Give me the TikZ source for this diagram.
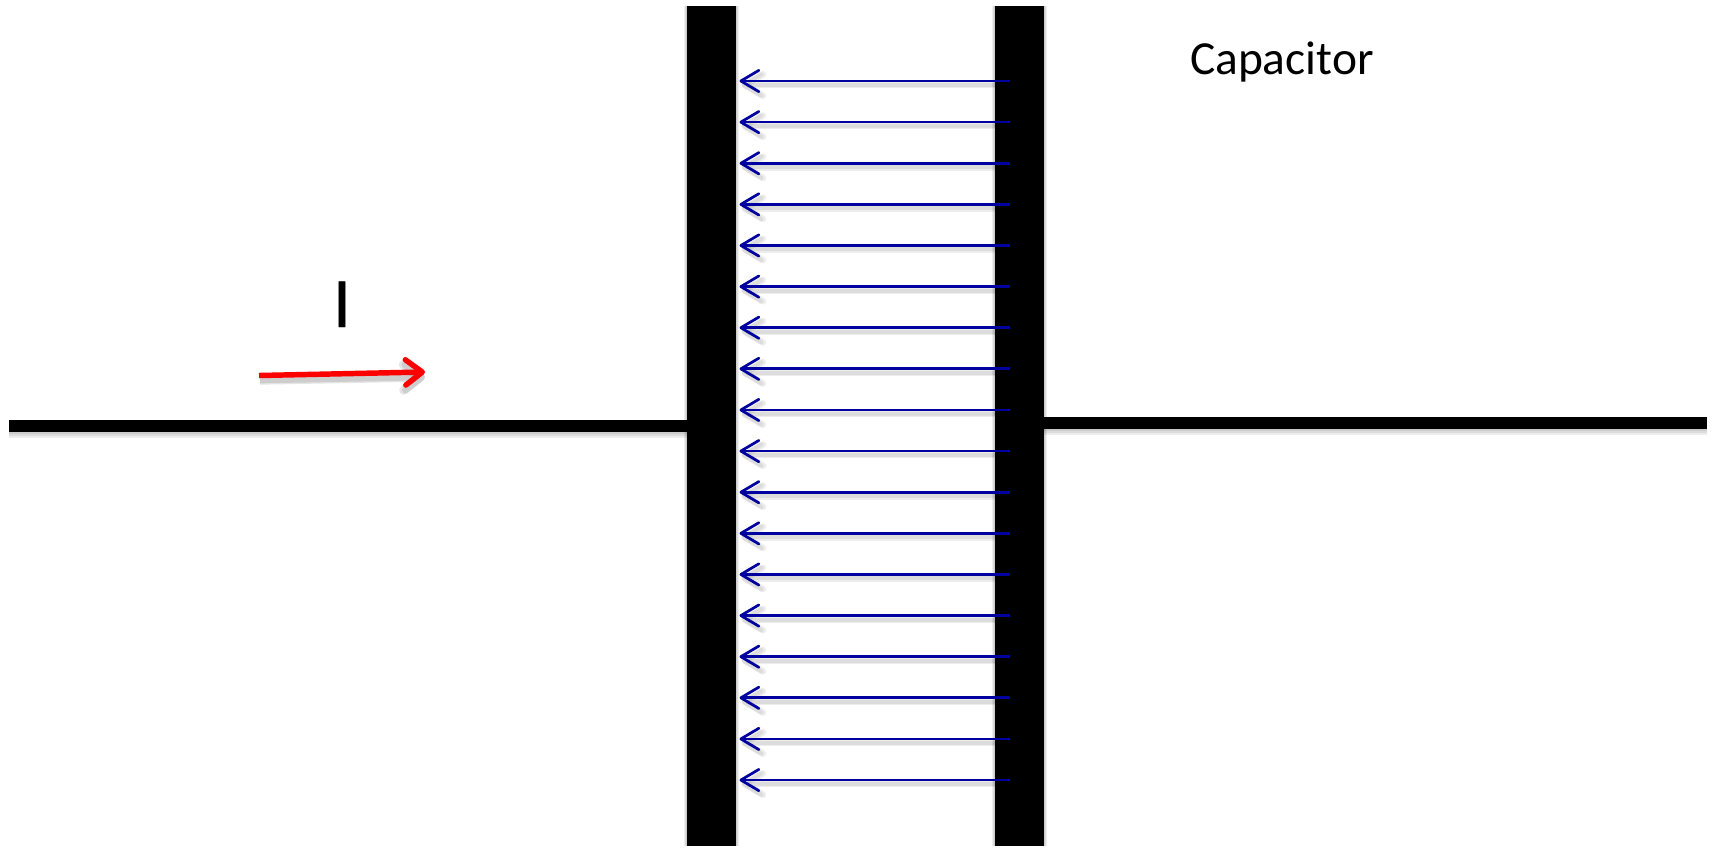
\documentclass[tikz,border=0pt]{standalone}
\usepackage{fontspec}
\setmainfont{Carlito}
\newfontfamily\heavyI[FakeBold=0.6]{Carlito}
\usetikzlibrary{arrows.meta}
\definecolor{fieldblue}{RGB}{0,0,160}
\tikzset{
  x=0.75pt,y=-0.75pt,
  plate/.style={draw=none,fill=black,minimum width=36.75pt,minimum height=630pt,inner sep=0pt,outer sep=0pt},
  wire/.style={draw=black,line width=9pt},
  fieldline/.style={draw=fieldblue,line width=2.05pt,-{Straight Barb[length=13.5pt,width=16pt,line width=2.05pt,round]}},
  fieldshade/.style={draw=black,opacity=.07,line width=#1,-{Straight Barb[length=13.5pt,width=16pt,line width=#1,round]}},
  currentarrow/.style={draw=red,line width=4.1pt,-{Straight Barb[length=12.5pt,width=19pt,line width=4.1pt,round]}},
  currentshade/.style={draw=black,opacity=.10,line width=#1,-{Straight Barb[length=12.5pt,width=19pt,line width=#1,round]}},
  label/.style={inner sep=0pt,outer sep=0pt,text=black}
}
\begin{document}
\begin{tikzpicture}
\useasboundingbox (0,0) rectangle (1712,847);
\fill[white] (0,0) rectangle (1712,847);
% soft shadows of plates and wires
\foreach \w in {1,2,3}{
  \fill[black,opacity=.07] ({687-\w},{6}) rectangle ({736+\w},{846});
  \fill[black,opacity=.07] ({995-\w},{6}) rectangle ({1044+\w},{846});
  \fill[black,opacity=.07] (9,{432}) rectangle (687,{432+2*\w});
  \fill[black,opacity=.07] (1044,{429}) rectangle (1707,{429+2*\w});
}
% wires
\coordinate (wl) at (9,426);
\coordinate (wr) at (1707,423);
\node[plate] (lp) at (711.5,426) {};
\node[plate] (rp) at (1019.5,426) {};
\draw[wire] (wl) -- (lp.west |- wl);
\draw[wire] (rp.east |- wr) -- (wr);
% field lines
\foreach \i in {0,...,17}{
  \pgfmathsetmacro{\yy}{81+\i*41.12}
  \coordinate (s\i) at (1009.5,\yy);
  \coordinate (e\i) at (739.5,\yy);
  \coordinate (ss\i) at (1009.5,\yy+4);
  \coordinate (es\i) at (741.5,\yy+4);
  \draw[fieldshade=5pt] (ss\i) -- (es\i);
  \draw[fieldshade=3pt] (ss\i) -- (es\i);
  \draw[fieldline] (s\i) -- (e\i);
}
% current arrow
\coordinate (c1) at (259,375.5);
\coordinate (c2) at (425,372);
\coordinate (c1s) at (260,380);
\coordinate (c2s) at (425,377);
\draw[currentshade=7pt] (c1s) -- (c2s);
\draw[currentshade=5pt] (c1s) -- (c2s);
\draw[currentarrow] (c1) -- (c2);
\node[label,font=\heavyI\fontsize{53pt}{53pt}\selectfont,anchor=base] (curr) at (342,327) {I};
\node[label,font=\fontsize{35.6pt}{36pt}\selectfont,anchor=base west] (cap) at (1190,74) {Capacitor};
\end{tikzpicture}
\end{document}
